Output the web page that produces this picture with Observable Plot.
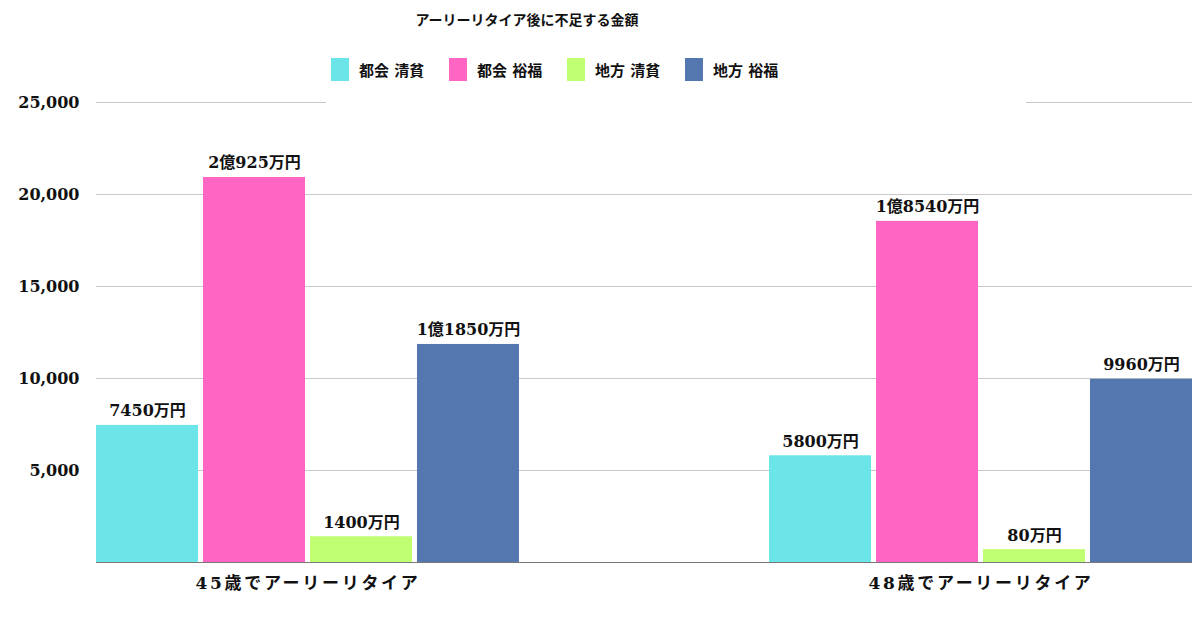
<!DOCTYPE html>
<html>
<head>
<meta charset="utf-8">
<script src="https://cdn.jsdelivr.net/npm/d3@7"></script>
<script src="https://cdn.jsdelivr.net/npm/@observablehq/plot@0.6"></script>
<style>
  body { margin: 0; background: #fff; }
  #wrap { position: relative; width: 1200px; height: 630px; overflow: hidden;
          font-family: "DejaVu Serif", "Noto Sans CJK JP", serif; color: #111; }
  #title { position: absolute; left: 0; top: 9px; width: 1054px; text-align: center;
           font-size: 14px; font-weight: bold; z-index: 3; }
  #legend { position: absolute; left: 326px; top: 45px; width: 700px; height: 62px;
            background: #fff; z-index: 3; display: flex; align-items: flex-start;
            padding-left: 5px; padding-top: 13px; box-sizing: border-box; }
  .item { width: 118px; flex: none; display: flex; align-items: center; }
  .sw { width: 18px; height: 23px; margin-right: 10px; flex: none; }
  .lab { font-size: 15px; font-weight: bold; white-space: pre; }
  #grid { position: absolute; left: 0; top: 0; z-index: 1; }
  #chart { position: absolute; left: 0; top: 0; z-index: 2; }
  [aria-label="fx-axis tick label"] text { letter-spacing: 2.7px; }
</style>
</head>
<body>
<div id="wrap">
  <div id="title"></div>
  <div id="legend"></div>
  <div id="grid"></div>
  <div id="chart"></div>
</div>
<script>
const titleText = "アーリーリタイア後に不足する金額";
const groups = ["45歳でアーリーリタイア", "48歳でアーリーリタイア"];
const series = ["都会 清貧", "都会 裕福", "地方 清貧", "地方 裕福"];
const colors = ["#6ce5e8", "#ff66c4", "#c1ff72", "#5577b0"];
const values45 = [7450, 20925, 1400, 11850];
const values48 = [5800, 18540, 700, 9960];
const labels45 = ["7450万円", "2億925万円", "1400万円", "1億1850万円"];
const labels48 = ["5800万円", "1億8540万円", "80万円", "9960万円"];
const yTicks = [5000, 10000, 15000, 20000, 25000];

const rows = [];
series.forEach((s, i) => {
  rows.push({group: groups[0], series: s, value: values45[i], label: labels45[i]});
  rows.push({group: groups[1], series: s, value: values48[i], label: labels48[i]});
});

document.getElementById("title").textContent = titleText;
const legend = document.getElementById("legend");
series.forEach((s, i) => {
  const it = document.createElement("div");
  it.className = "item";
  const sw = document.createElement("div");
  sw.className = "sw";
  sw.style.background = colors[i];
  const lab = document.createElement("span");
  lab.className = "lab";
  lab.textContent = s;
  it.appendChild(sw);
  it.appendChild(lab);
  legend.appendChild(it);
});

const common = {
  width: 1200,
  height: 630,
  marginTop: 102,
  marginBottom: 68,
  marginLeft: 96,
  marginRight: 8,
  style: {fontFamily: '"DejaVu Serif", "Noto Sans CJK JP", serif', background: "transparent", color: "#111"},
  y: {domain: [0, 25000], axis: null}
};

// Background layer: full-width gridlines and y axis labels
const grid = Plot.plot({
  ...common,
  marks: [
    Plot.ruleY(yTicks, {stroke: "#c8c8c8", strokeWidth: 1}),
    Plot.axisY(yTicks, {tickSize: 0, tickPadding: 17, tickFormat: d3.format(","), fontSize: 16, fontWeight: "bold", label: null})
  ]
});
document.getElementById("grid").appendChild(grid);

// Foreground layer: grouped bars, value labels, group labels
const chart = Plot.plot({
  ...common,
  fx: {domain: groups, paddingInner: 0.3715, paddingOuter: 0, round: false, label: null},
  x: {domain: series, paddingInner: 0.0467, paddingOuter: 0, round: false, axis: null},
  color: {domain: series, range: colors},
  marks: [
    Plot.barY(rows, {fx: "group", x: "series", y: "value", fill: "series"}),
    Plot.text(rows, {fx: "group", x: "series", y: "value", text: "label", dy: -9, lineAnchor: "bottom", fontSize: 16, fontWeight: "bold", fill: "#111"}),
    Plot.axisFx({anchor: "bottom", tickSize: 0, tickPadding: 14, fontSize: 17, fontWeight: "bold", label: null})
  ]
});
document.getElementById("chart").appendChild(chart);

// Baseline on top of the bars, full width
const base = Plot.plot({
  ...common,
  marks: [Plot.ruleY([0], {stroke: "#777", strokeWidth: 1})]
});
base.style.position = "absolute";
base.style.left = "0";
base.style.top = "0";
base.style.zIndex = "2";
base.style.pointerEvents = "none";
document.getElementById("wrap").appendChild(base);
</script>
</body>
</html>
